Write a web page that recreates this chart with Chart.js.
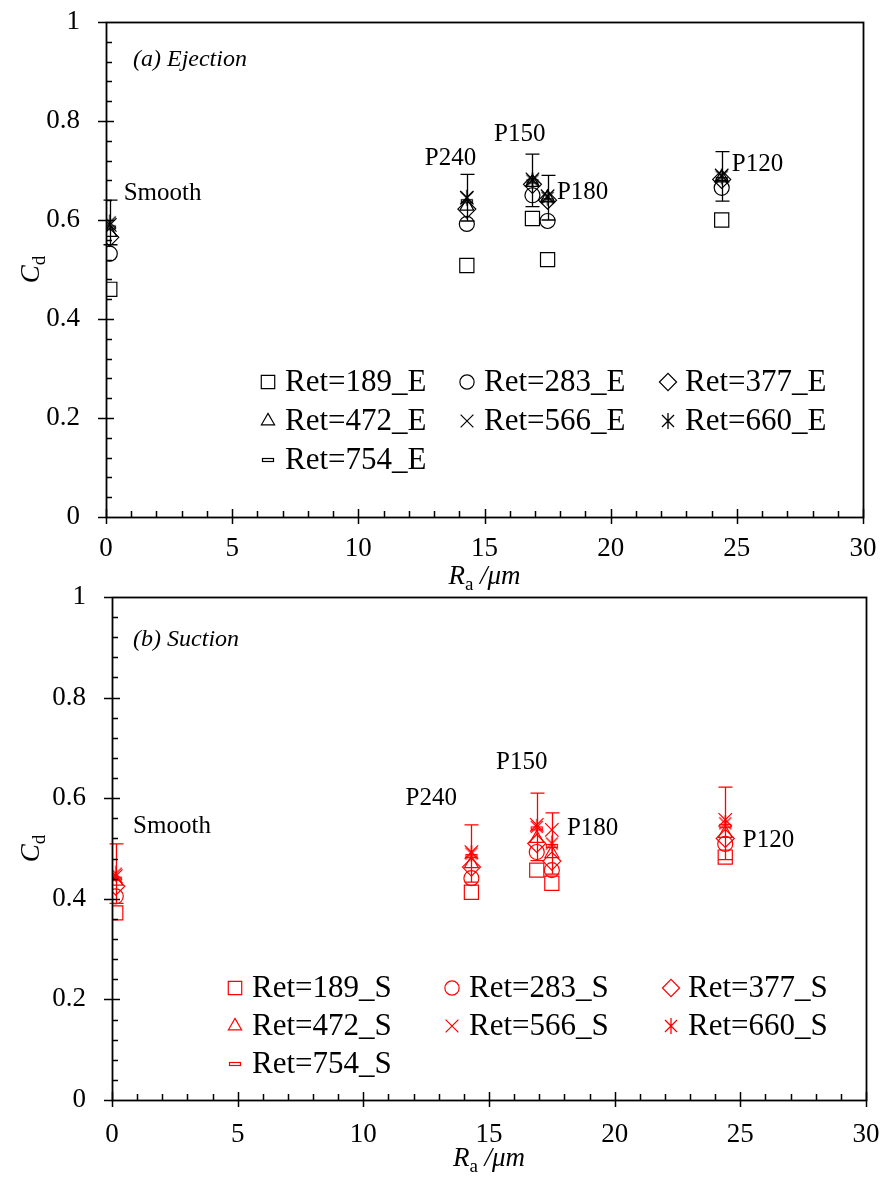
<!DOCTYPE html>
<html>
<head>
<meta charset="utf-8">
<script src="https://cdn.jsdelivr.net/npm/chart.js@4/dist/chart.umd.min.js"></script>
<style>
  body { margin: 0; background: #fff; }
  .stage { position: relative; width: 881px; height: 1190px; }
  canvas { position: absolute; left: 0; }
</style>
</head>
<body>
<div class="stage">
  <canvas id="ejection" width="881" height="600" style="top:0"></canvas>
  <canvas id="suction" width="881" height="620" style="top:570px"></canvas>
</div>
<script>
// Ra of each surface, and the names written next to the clusters
const roughness = [0.15, 14.3, 16.9, 17.5, 24.4]
const surfaceNames = ["Smooth", "P240", "P150", "P180", "P120"]
const retNumbers = [189, 283, 377, 472, 566, 660, 754]
const xTicks = [0, 5, 10, 15, 20, 25, 30]
const yTicks = [0, 0.2, 0.4, 0.6, 0.8, 1]

// (a) ejection, Cd per surface
const ejection189 = [0.460, 0.508, 0.603, 0.520, 0.600]
const ejection283 = [0.532, 0.592, 0.650, 0.598, 0.665]
const ejection377 = [0.565, 0.622, 0.672, 0.640, 0.682]
const ejection472 = [0.575, 0.628, 0.676, 0.645, 0.685]
const ejection566 = [0.590, 0.645, 0.682, 0.648, 0.690]
const ejection660 = [0.595, 0.645, 0.680, 0.645, 0.688]
const ejection754 = [0.585, 0.638, 0.678, 0.640, 0.683]
const ejectionErr = [0.045, 0.047, 0.053, 0.045, 0.050]

// (b) suction, Cd per surface
const suction189 = [0.372, 0.413, 0.457, 0.431, 0.483]
const suction283 = [0.405, 0.441, 0.493, 0.457, 0.509]
const suction377 = [0.425, 0.463, 0.510, 0.475, 0.520]
const suction472 = [0.435, 0.470, 0.520, 0.490, 0.530]
const suction566 = [0.445, 0.493, 0.547, 0.537, 0.557]
const suction660 = [0.450, 0.490, 0.543, 0.510, 0.550]
const suction754 = [0.440, 0.485, 0.540, 0.505, 0.545]
const suctionErr = [0.059, 0.057, 0.067, 0.061, 0.072]

const SERIF = "'Liberation Serif', 'Times New Roman', serif"

function asteriskMarker(color) {
  const c = document.createElement("canvas")
  c.width = 18; c.height = 18
  const g = c.getContext("2d")
  g.strokeStyle = color; g.lineWidth = 1.3
  g.beginPath()
  g.moveTo(9, 1); g.lineTo(9, 17)
  g.moveTo(3, 3); g.lineTo(15, 15)
  g.moveTo(15, 3); g.lineTo(3, 15)
  g.stroke()
  return c
}

function dashMarker(color) {
  const c = document.createElement("canvas")
  c.width = 16; c.height = 8
  const g = c.getContext("2d")
  g.strokeStyle = color; g.lineWidth = 1.2
  g.strokeRect(2.5, 2.5, 11, 3)
  return c
}

function markerSet(color) {
  return [
    { style: "rect", r: 10 },
    { style: "circle", r: 7.5 },
    { style: "rectRot", r: 9 },
    { style: "triangle", r: 8 },
    { style: "crossRot", r: 9.5 },
    { style: asteriskMarker(color), r: 9 },
    { style: dashMarker(color), r: 8 }
  ]
}

function drawSubscripted(ctx, main, sub, tail, x, y) {
  ctx.font = `italic 27px ${SERIF}`
  const w1 = ctx.measureText(main).width
  ctx.font = `19px ${SERIF}`
  const w2 = ctx.measureText(sub).width
  ctx.font = `italic 27px ${SERIF}`
  const w3 = tail ? ctx.measureText(tail).width : 0
  let cx = x - (w1 + w2 + w3) / 2
  ctx.textAlign = "left"
  ctx.textBaseline = "alphabetic"
  ctx.fillText(main, cx, y)
  cx += w1
  ctx.font = `19px ${SERIF}`
  ctx.fillText(sub, cx, y + 6)
  cx += w2
  if (tail) {
    ctx.font = `italic 27px ${SERIF}`
    ctx.fillText(tail, cx, y)
  }
}

// keep the plot box exactly where layout.padding puts it
function noScalePadding(s) {
  s.paddingTop = 0; s.paddingBottom = 0; s.paddingLeft = 0; s.paddingRight = 0
}

const panelPlugin = {
  id: "panel",
  beforeDatasetsDraw(chart, args, opts) {
    const { ctx, scales: { x, y } } = chart
    ctx.save()
    ctx.strokeStyle = opts.color
    ctx.lineWidth = 1.3
    opts.errCenter.forEach((c, i) => {
      const px = Math.round(x.getPixelForValue(roughness[i])) + 0.5
      const top = y.getPixelForValue(c + opts.errHalf[i])
      const bot = y.getPixelForValue(c - opts.errHalf[i])
      ctx.beginPath()
      ctx.moveTo(px, top); ctx.lineTo(px, bot)
      ctx.moveTo(px - 7, top); ctx.lineTo(px + 7, top)
      ctx.moveTo(px - 7, bot); ctx.lineTo(px + 7, bot)
      ctx.stroke()
    })
    ctx.restore()
  },
  afterDraw(chart, args, opts) {
    const { ctx, chartArea: a, scales: { x, y } } = chart
    ctx.save()
    ctx.strokeStyle = "#000"
    ctx.fillStyle = "#000"

    // ticks
    ctx.lineWidth = 1.5
    ctx.beginPath()
    for (let k = 1; k < 25; k++) {
      const py = Math.round(y.getPixelForValue(k * 0.04)) + 0.5
      if (k % 5 === 0) { ctx.moveTo(a.left - 8, py); ctx.lineTo(a.left + 8, py) }
      else { ctx.moveTo(a.left, py); ctx.lineTo(a.left + 6, py) }
    }
    ctx.moveTo(a.left - 8, Math.round(a.top) + 0.5); ctx.lineTo(a.left, Math.round(a.top) + 0.5)
    ctx.moveTo(a.left - 8, Math.round(a.bottom) + 0.5); ctx.lineTo(a.left, Math.round(a.bottom) + 0.5)
    for (let k = 0; k <= 30; k++) {
      const px = Math.round(x.getPixelForValue(k)) + 0.5
      if (k % 5 === 0) { ctx.moveTo(px, a.bottom + 7); ctx.lineTo(px, a.bottom - 8) }
      else { ctx.moveTo(px, a.bottom); ctx.lineTo(px, a.bottom - 6) }
    }
    ctx.stroke()

    // frame
    ctx.lineWidth = 1.8
    ctx.strokeRect(Math.round(a.left) + 0.5, Math.round(a.top) + 0.5,
      Math.round(a.right - a.left), Math.round(a.bottom - a.top))

    // surface labels
    ctx.font = `25px ${SERIF}`
    ctx.textBaseline = "middle"
    opts.notes.forEach(n => {
      ctx.textAlign = n.align
      ctx.fillText(n.text, x.getPixelForValue(n.x), y.getPixelForValue(n.y))
    })

    // panel label
    ctx.font = `italic 24px ${SERIF}`
    ctx.textAlign = "left"
    ctx.fillText(opts.panel, x.getPixelForValue(opts.panelAt[0]), y.getPixelForValue(opts.panelAt[1]))

    // legend
    const lg = opts.legend
    chart.data.datasets.forEach((ds, i) => {
      const col = i % 3, row = Math.floor(i / 3)
      const mx = lg.cols[col], my = lg.rows[row]
      ctx.strokeStyle = opts.color
      ctx.fillStyle = "rgba(0,0,0,0)"
      ctx.lineWidth = 1.2
      Chart.helpers.drawPoint(ctx, {
        pointStyle: ds.pointStyle, radius: ds.pointRadius * 0.95, rotation: 0, borderWidth: 1.2
      }, mx, my)
      ctx.fillStyle = "#000"
      ctx.font = `31px ${SERIF}`
      ctx.textAlign = "left"
      ctx.textBaseline = "middle"
      ctx.fillText(ds.label, mx + lg.gap, my + 1)
    })

    // axis titles
    ctx.fillStyle = "#000"
    drawSubscripted(ctx, "R", "a", " /\u03bcm", (a.left + a.right) / 2, a.bottom + opts.xTitleDy)
    ctx.translate(opts.yTitleX, (a.top + a.bottom) / 2)
    ctx.rotate(-Math.PI / 2)
    drawSubscripted(ctx, "C", "d", "", 0, 9)
    ctx.restore()
  }
}

function makePanel(id, o) {
  const marks = markerSet(o.color)
  const datasets = o.series.map((vals, i) => ({
    label: `Ret=${retNumbers[i]}_${o.suffix}`,
    data: roughness.map((r, j) => ({ x: r, y: vals[j] })),
    pointStyle: marks[i].style,
    pointRadius: marks[i].r,
    pointBorderWidth: 1.2,
    borderColor: o.color,
    pointBorderColor: o.color,
    pointBackgroundColor: "rgba(0,0,0,0)",
    showLine: false
  }))

  return new Chart(document.getElementById(id), {
    type: "scatter",
    data: { datasets },
    options: {
      responsive: false,
      animation: false,
      devicePixelRatio: 1,
      layout: { padding: { top: o.padTop, right: o.padRight, left: 0, bottom: 0 } },
      scales: {
        x: {
          type: "linear", min: 0, max: 30,
          afterBuildTicks: s => { s.ticks = xTicks.map(v => ({ value: v })) },
          afterFit: s => { s.height = o.xHeight; noScalePadding(s) },
          grid: { display: false, drawTicks: false },
          border: { display: false },
          ticks: { color: "#000", padding: o.xPad, font: { family: SERIF, size: 27 } }
        },
        y: {
          type: "linear", min: 0, max: 1,
          afterBuildTicks: s => { s.ticks = yTicks.map(v => ({ value: v })) },
          afterFit: s => { s.width = o.yWidth; noScalePadding(s) },
          grid: { display: false, drawTicks: false },
          border: { display: false },
          ticks: {
            color: "#000", padding: 26, font: { family: SERIF, size: 27 },
            callback: v => String(v)
          }
        }
      },
      plugins: {
        legend: { display: false },
        tooltip: { enabled: false },
        panel: {
          color: o.color,
          errCenter: o.errCenter,
          errHalf: o.errHalf,
          notes: o.notes,
          panel: o.panel,
          panelAt: o.panelAt,
          legend: o.legend,
          xTitleDy: o.xTitleDy,
          yTitleX: 30
        }
      }
    },
    plugins: [panelPlugin]
  })
}

makePanel("ejection", {
  color: "#000",
  suffix: "E",
  series: [ejection189, ejection283, ejection377, ejection472, ejection566, ejection660, ejection754],
  errCenter: ejection660,
  errHalf: ejectionErr,
  padTop: 22, padRight: 18, xHeight: 83, yWidth: 106, xPad: 16, xTitleDy: 67,
  panel: "(a) Ejection", panelAt: [1.07, 0.924],
  notes: [
    { text: surfaceNames[0], x: 0.7, y: 0.654, align: "left" },
    { text: surfaceNames[1], x: 13.65, y: 0.724, align: "center" },
    { text: surfaceNames[2], x: 16.4, y: 0.773, align: "center" },
    { text: surfaceNames[3], x: 17.87, y: 0.656, align: "left" },
    { text: surfaceNames[4], x: 24.8, y: 0.712, align: "left" }
  ],
  legend: { cols: [268, 467, 668], rows: [382, 421, 460], gap: 17 }
})

makePanel("suction", {
  color: "#ff0000",
  suffix: "S",
  series: [suction189, suction283, suction377, suction472, suction566, suction660, suction754],
  errCenter: suction660,
  errHalf: suctionErr,
  padTop: 27, padRight: 15, xHeight: 90, yWidth: 112, xPad: 19, xTitleDy: 66,
  panel: "(b) Suction", panelAt: [0.84, 0.915],
  notes: [
    { text: surfaceNames[0], x: 0.84, y: 0.543, align: "left" },
    { text: surfaceNames[1], x: 12.7, y: 0.600, align: "center" },
    { text: surfaceNames[2], x: 16.3, y: 0.672, align: "center" },
    { text: surfaceNames[3], x: 18.1, y: 0.540, align: "left" },
    { text: surfaceNames[4], x: 25.1, y: 0.517, align: "left" }
  ],
  legend: { cols: [235, 452, 671], rows: [418, 456, 494], gap: 17 }
})
</script>
</body>
</html>
